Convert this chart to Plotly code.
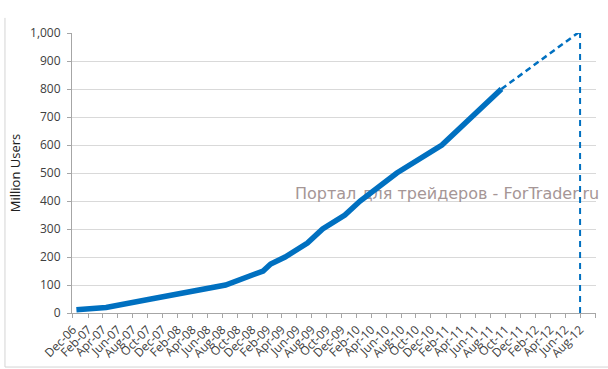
import plotly.graph_objects as go
import pandas as pd

# Data (Facebook users, millions)
dates = ["2006-12-15", "2007-04-15", "2007-10-15", "2008-08-15", "2009-01-15",
         "2009-02-15", "2009-04-15", "2009-07-15", "2009-09-15", "2009-12-15",
         "2010-02-15", "2010-07-15", "2011-01-15", "2011-09-15"]
users = [12, 20, 50, 100, 150, 175, 200, 250, 300, 350, 400, 500, 600, 800]

# Projection (dashed)
proj_dates = ["2011-09-15", "2012-08-26"]
proj_users = [800, 1022]

# Vertical marker at Aug-12
marker_dates = ["2012-08-01", "2012-08-01"]
marker_users = [0, 1032]

watermark = "Портал для трейдеров - ForTrader.ru"
watermark_pos = ("2011-02-05", 420)

y_ticks = [0, 100, 200, 300, 400, 500, 600, 700, 800, 900, 1000]
x_tick_dates = pd.date_range("2006-12-01", "2012-10-01", freq="2MS")
x_tick_labels = [d.strftime("%b-%y") for d in x_tick_dates[:-1]] + [""]

blue = "rgb(0,112,192)"

fig = go.Figure()

fig.add_trace(go.Scatter(
    x=[watermark_pos[0]], y=[watermark_pos[1]], mode="text", text=[watermark],
    textfont=dict(family="DejaVu Sans", size=16, color="rgb(165,150,150)"),
    textposition="middle center", cliponaxis=False, hoverinfo="skip", showlegend=False))

fig.add_trace(go.Scatter(
    x=marker_dates, y=marker_users, mode="lines",
    line=dict(color=blue, width=2, dash="6px,5px"),
    cliponaxis=False, showlegend=False))

fig.add_trace(go.Scatter(
    x=proj_dates, y=proj_users, mode="lines",
    line=dict(color=blue, width=2.5, dash="6px,4px"),
    cliponaxis=False, showlegend=False))

fig.add_trace(go.Scatter(
    x=dates, y=users, mode="lines",
    line=dict(color=blue, width=5.5),
    cliponaxis=False, showlegend=False))

# Frame lines (left and bottom border of the chart box)
fig.add_shape(type="line", xref="paper", yref="paper",
              x0=-0.1279, x1=-0.1279, y0=1.054, y1=-0.193,
              line=dict(color="#d4d4d4", width=1))
fig.add_shape(type="line", xref="paper", yref="paper",
              x0=-0.1279, x1=1.1, y0=-0.193, y1=-0.193,
              line=dict(color="#d4d4d4", width=1))

fig.update_layout(
    width=608, height=369,
    margin=dict(l=72, r=12, t=33, b=56, autoexpand=False),
    paper_bgcolor="white", plot_bgcolor="white",
    font=dict(family="Open Sans", size=12, color="#404040"),
    xaxis=dict(
        type="date", range=["2006-11-27", "2012-10-05"],
        tickmode="array", tickvals=list(x_tick_dates), ticktext=x_tick_labels,
        tickangle=-45, ticks="outside", ticklen=4, tickcolor="#a6a6a6",
        showgrid=False, showline=True, linecolor="#a6a6a6", linewidth=1,
        tickfont=dict(family="Open Sans", size=12, color="#404040"),
        zeroline=False, automargin=False,
    ),
    yaxis=dict(
        range=[0, 1000], tickvals=y_ticks, tickformat=",d",
        ticks="outside", ticklen=4, tickcolor="#a6a6a6",
        showgrid=True, gridcolor="#d9d9d9", gridwidth=1,
        showline=True, linecolor="#a6a6a6", linewidth=1,
        zeroline=False, automargin=False,
        tickfont=dict(family="Open Sans", size=12, color="#404040"),
        ticklabelstandoff=4,
        title=dict(text="Million Users", standoff=6,
                   font=dict(family="Open Sans", size=13, color="#202020")),
    ),
)

fig.write_html("out.html")
